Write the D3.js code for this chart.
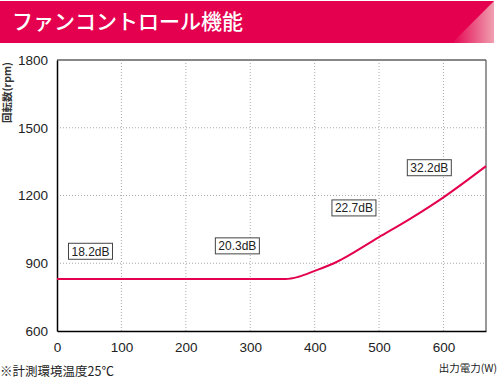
<!DOCTYPE html>
<html>
<head>
<meta charset="utf-8">
<script src="https://cdn.jsdelivr.net/npm/d3@7"></script>
<style>
  body { margin: 0; background: #fff; }
  text { font-family: "Noto Sans CJK JP", "Noto Sans", sans-serif; }
</style>
</head>
<body>
<div id="main"></div>
<script>
/// data ///
const power = [0, 100, 200, 300, 355, 375, 400, 430, 500, 550, 600, 666];
const rpm   = [830, 830, 830, 830, 830, 840, 866, 900, 1016, 1100, 1192, 1330];

const xTicks = [0, 100, 200, 300, 400, 500, 600];
const yTicks = [600, 900, 1200, 1500, 1800];

const noiseLabels = ['18.2dB', '20.3dB', '22.7dB', '32.2dB'];
const noiseX = [52, 280, 461, 578];
const noiseY = [953, 977, 1145, 1323];

/// chart ///
const w = 500, h = 379;
const padL = 57, padR = 486, padT = 60, padB = 331;
const numFont = '"Liberation Sans", "DejaVu Sans", sans-serif';

let svg = d3.select('#main')
    .append('svg')
    .attr('width', w)
    .attr('height', h);

// title bar
let defs = svg.append('defs');
let grad = defs.append('linearGradient')
    .attr('id', 'corner')
    .attr('x1', '0').attr('y1', '0')
    .attr('x2', '1').attr('y2', '0');
grad.append('stop').attr('offset', '0%').attr('stop-color', '#e4004f');
grad.append('stop').attr('offset', '100%').attr('stop-color', '#f0a0b0');

svg.append('rect')
    .attr('x', 0).attr('y', 1)
    .attr('width', 494).attr('height', 42)
    .attr('fill', '#e4004f');

svg.append('path')
    .attr('d', 'M494,1 L494,43 L452,43 Z')
    .attr('fill', 'url(#corner)');

svg.append('text')
    .attr('x', 12).attr('y', 29)
    .attr('fill', '#fff')
    .attr('font-size', 21)
    .attr('font-weight', 500)
    .text('ファンコントロール機能');

// scales
let xScale = d3.scaleLinear().domain([0, 666]).range([padL, padR]);
let yScale = d3.scaleLinear().domain([600, 1800]).range([padB, padT]);

// grid
svg.selectAll('.vgrid')
    .data(xTicks.slice(1))
    .enter()
    .append('line')
    .attr('x1', d => xScale(d)).attr('x2', d => xScale(d))
    .attr('y1', padT).attr('y2', padB)
    .attr('stroke', '#aaa')
    .attr('stroke-dasharray', '1,2');

svg.selectAll('.hgrid')
    .data(yTicks.slice(1, -1))
    .enter()
    .append('line')
    .attr('x1', padL).attr('x2', padR)
    .attr('y1', d => yScale(d)).attr('y2', d => yScale(d))
    .attr('stroke', '#aaa')
    .attr('stroke-dasharray', '1,2');

// frame
svg.append('line')
    .attr('x1', padL).attr('x2', padR)
    .attr('y1', padT).attr('y2', padT)
    .attr('stroke', '#888').attr('stroke-width', 2);
svg.append('line')
    .attr('x1', padR).attr('x2', padR)
    .attr('y1', padT).attr('y2', padB)
    .attr('stroke', '#555').attr('stroke-width', 1.2);

// axes
let xAxis = d3.axisBottom(xScale).tickValues(xTicks).tickFormat(d3.format('d'))
    .tickSize(0).tickPadding(11);
let yAxis = d3.axisLeft(yScale).tickValues(yTicks).tickFormat(d3.format('d'))
    .tickSize(0).tickPadding(9);

let gx = svg.append('g')
    .attr('transform', 'translate(0,' + padB + ')')
    .call(xAxis);
let gy = svg.append('g')
    .attr('transform', 'translate(' + padL + ',0)')
    .call(yAxis);

[gx, gy].forEach(g => {
    g.select('.domain').attr('stroke', '#000').attr('stroke-width', 1.5);
    g.selectAll('text')
        .attr('font-size', 13.5)
        .attr('fill', '#222')
        .style('font-family', numFont);
});

// curve
let line = d3.line()
    .x((d, i) => xScale(power[i]))
    .y(d => yScale(d))
    .curve(d3.curveMonotoneX);

svg.append('path')
    .datum(rpm)
    .attr('d', line)
    .attr('fill', 'none')
    .attr('stroke', '#e4004f')
    .attr('stroke-width', 2);

// noise labels
noiseLabels.forEach((t, i) => {
    let cx = xScale(noiseX[i]), cy = yScale(noiseY[i]);
    svg.append('rect')
        .attr('x', cx - 22).attr('y', cy - 8)
        .attr('width', 44).attr('height', 16)
        .attr('fill', '#fff')
        .attr('stroke', '#444').attr('stroke-width', 1);
    svg.append('text')
        .attr('x', cx).attr('y', cy + 4.5)
        .attr('text-anchor', 'middle')
        .attr('font-size', 12)
        .attr('fill', '#222')
        .style('font-family', numFont)
        .text(t);
});

// axis labels
svg.append('text')
    .attr('transform', 'translate(11,62) rotate(-90)')
    .attr('text-anchor', 'end')
    .attr('font-size', 10.5)
    .attr('font-weight', 'bold')
    .attr('fill', '#333')
    .text('回転数(rpm)');

svg.append('text')
    .attr('x', 497).attr('y', 372)
    .attr('text-anchor', 'end')
    .attr('font-size', 10.5)
    .attr('fill', '#222')
    .text('出力電力(W)');

svg.append('text')
    .attr('x', 0).attr('y', 376)
    .attr('font-size', 12.5)
    .attr('fill', '#222')
    .text('※計測環境温度25℃');
</script>
</body>
</html>
